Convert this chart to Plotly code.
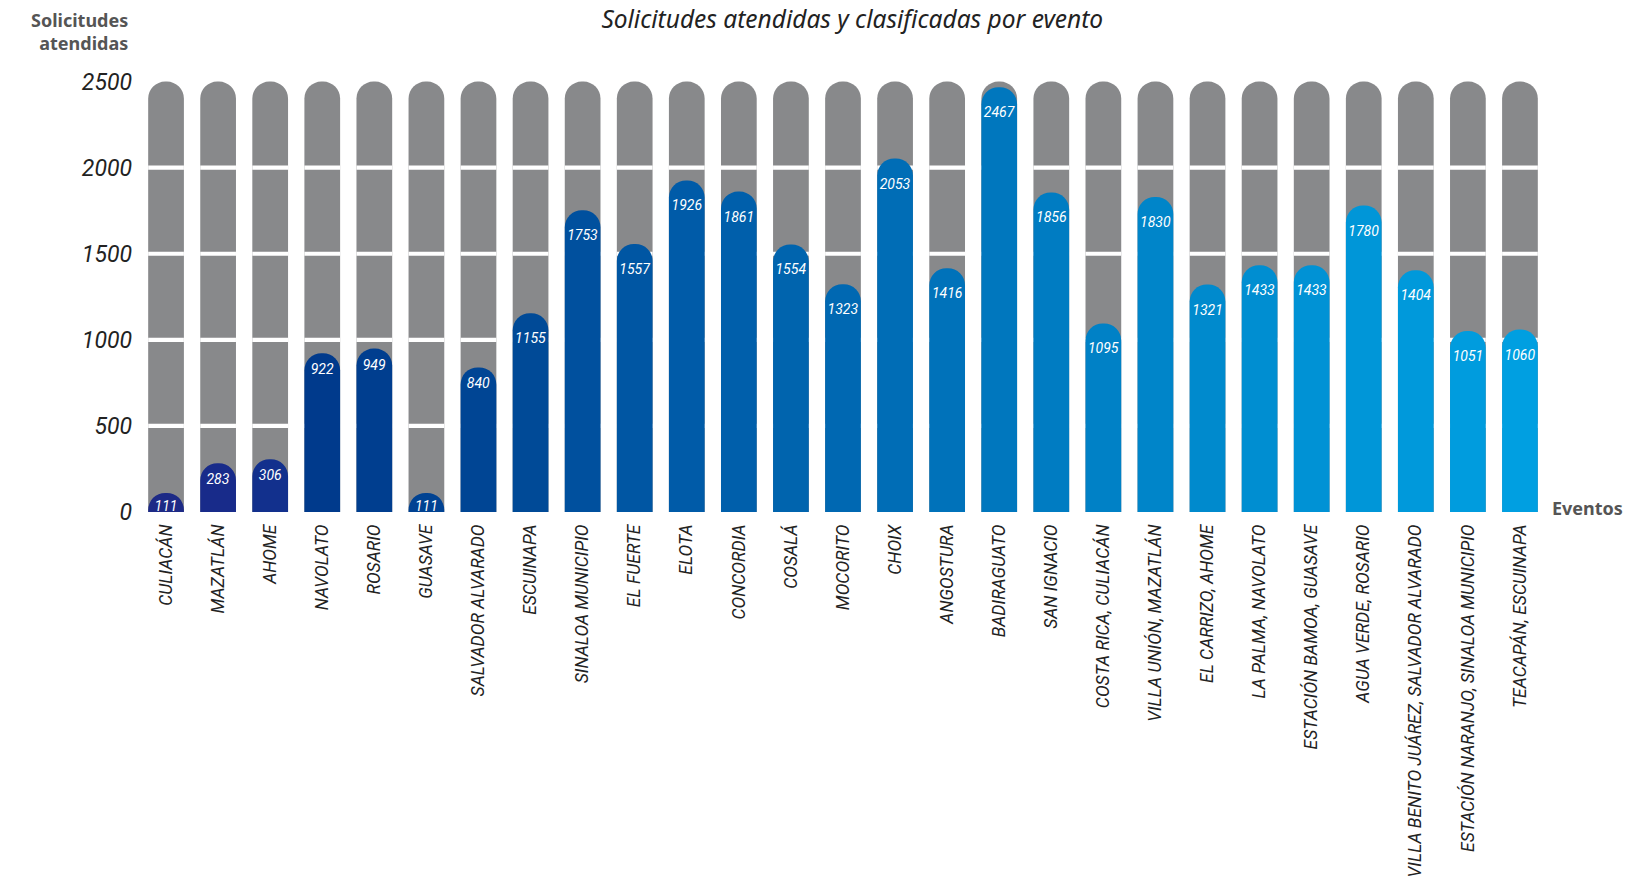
import plotly.graph_objects as go

categories = ["CULIACÁN", "MAZATLÁN", "AHOME", "NAVOLATO", "ROSARIO", "GUASAVE",
              "SALVADOR ALVARADO", "ESCUINAPA", "SINALOA MUNICIPIO", "EL FUERTE", "ELOTA",
              "CONCORDIA", "COSALÁ", "MOCORITO", "CHOIX", "ANGOSTURA", "BADIRAGUATO",
              "SAN IGNACIO", "COSTA RICA, CULIACÁN", "VILLA UNIÓN, MAZATLÁN", "EL CARRIZO, AHOME",
              "LA PALMA, NAVOLATO", "ESTACIÓN BAMOA, GUASAVE", "AGUA VERDE, ROSARIO",
              "VILLA BENITO JUÁREZ, SALVADOR ALVARADO", "ESTACIÓN NARANJO, SINALOA MUNICIPIO",
              "TEACAPÁN, ESCUINAPA"]
values = [111, 283, 306, 922, 949, 111, 840, 1155, 1753, 1557, 1926, 1861, 1554, 1323,
          2053, 1416, 2467, 1856, 1095, 1830, 1321, 1433, 1433, 1780, 1404, 1051, 1060]
tick_vals = [0, 500, 1000, 1500, 2000, 2500]
tick_text = ["0", "500", "1000", "1500", "2000", "2500"]
track_max = 2500

bar_colors = ["#1d2a86", "#182b8a", "#12308d", "#003a8c", "#003e8f", "#004292", "#004594",
              "#004a97", "#00509e", "#0056a3", "#005ba8", "#005fab", "#0064ae", "#0068b2",
              "#006db6", "#0072ba", "#0077be", "#007cc2", "#0081c6", "#0085c9", "#008acd",
              "#008ed1", "#0092d5", "#0096d8", "#0099db", "#009cde", "#009fe1"]

NARROW = "Liberation Sans Narrow, Roboto, sans-serif"
SANS = "Noto Sans, Open Sans, sans-serif"

fig = go.Figure()
n = len(categories)

# gray background track with rounded top (x axis 1)
fig.add_trace(go.Bar(
    x=categories, y=[track_max] * n, xaxis="x", yaxis="y",
    marker=dict(color="#88898b", line=dict(width=0), cornerradius="50%"),
    hoverinfo="skip", showlegend=False,
))
# white gaps in the track at each interior grid value
gap = 24
for tv in tick_vals[1:-1]:
    fig.add_trace(go.Bar(
        x=categories, y=[gap] * n, base=[tv - gap / 2] * n, xaxis="x", yaxis="y",
        marker=dict(color="white", line=dict(width=0), cornerradius=0),
        hoverinfo="skip", showlegend=False,
    ))

# data bars on an overlaying x axis so they are drawn above the track
fig.add_trace(go.Bar(
    x=categories, y=values, xaxis="x2", yaxis="y",
    marker=dict(color=bar_colors, line=dict(width=0), cornerradius="50%"),
    text=[str(v) for v in values],
    textposition="inside", insidetextanchor="end", textangle=0,
    constraintext="none",
    textfont=dict(family=NARROW, size=14, color="white", style="italic"),
    showlegend=False,
))

fig.update_layout(
    width=1649, height=882,
    barmode="overlay", bargap=0.314,
    paper_bgcolor="white", plot_bgcolor="white",
    margin=dict(l=132, r=111, t=65, b=378),
    title=dict(text="Solicitudes atendidas y clasificadas por evento",
               x=0.512, xanchor="center", y=0.9865, yanchor="middle",
               font=dict(family=SANS, size=24.5, color="#222222", style="italic")),
    uniformtext=dict(minsize=14, mode="show"),
    xaxis=dict(
        showgrid=False, zeroline=False, showline=False, ticks="", automargin=False,
        tickangle=-90, ticklabelstandoff=8,
        tickfont=dict(family=NARROW, size=17.5, color="#222222", style="italic"),
    ),
    xaxis2=dict(overlaying="x", matches="x", visible=False, automargin=False),
    yaxis=dict(
        range=[0, 2550], showgrid=False, zeroline=False, showline=False, ticks="",
        automargin=False,
        tickvals=tick_vals, ticktext=tick_text, ticklabelstandoff=7,
        tickfont=dict(family=NARROW, size=23, color="#222222", style="italic"),
    ),
)

fig.add_annotation(text="Solicitudes<br>atendidas", xref="paper", yref="paper",
                   x=-0.007, y=1.094, xanchor="right", yanchor="middle", align="right",
                   showarrow=False,
                   font=dict(family=SANS, size=18, color="#555555", weight="bold"))
fig.add_annotation(text="Eventos", xref="paper", yref="paper",
                   x=1.003, y=0.008, xanchor="left", yanchor="middle", align="left",
                   showarrow=False,
                   font=dict(family=SANS, size=18, color="#555555", weight="bold"))

fig.write_html("out.html")
